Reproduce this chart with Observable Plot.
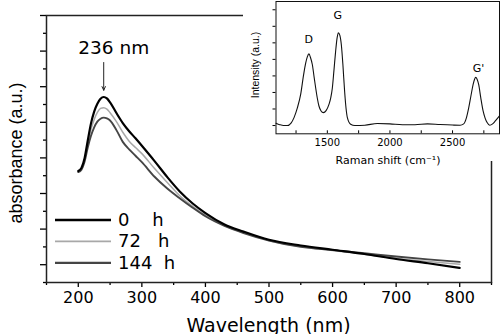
<!DOCTYPE html>
<html><head><meta charset="utf-8">
<script src="https://cdn.jsdelivr.net/npm/d3@7"></script>
<script src="https://cdn.jsdelivr.net/npm/@observablehq/plot@0.6"></script>
<style>
html,body{margin:0;padding:0;background:#fff;}
#wrap{position:relative;width:500px;height:334px;overflow:hidden;background:#fff;}
#main{position:absolute;left:0;top:0;}
#inset{position:absolute;left:243px;top:0;}
svg text{white-space:pre;}
</style></head><body>
<div id="wrap"><div id="main"></div><div id="inset"></div></div>
<script>
// ---- main chart data: UV-vis absorbance (a.u.) vs wavelength (nm)
const wavelength = [200,205,210,215,220,225,230,235,240,245,250,260,270,280,290,300,320,340,360,380,400,430,460,500,550,600,650,700,750,800];
const abs0h   = [2.63,2.72,3.00,3.50,3.97,4.30,4.52,4.66,4.71,4.67,4.56,4.26,3.98,3.75,3.55,3.34,2.91,2.46,2.05,1.72,1.45,1.13,0.93,0.70,0.54,0.42,0.30,0.16,0.04,-0.09];
const abs72h  = [2.62,2.70,2.95,3.40,3.80,4.08,4.28,4.39,4.41,4.37,4.27,4.02,3.72,3.47,3.29,3.12,2.70,2.31,1.93,1.64,1.39,1.10,0.90,0.68,0.51,0.40,0.29,0.18,0.09,0.01];
const abs144h = [2.60,2.67,2.90,3.30,3.62,3.86,4.02,4.10,4.13,4.11,4.05,3.78,3.45,3.24,3.06,2.88,2.47,2.14,1.86,1.60,1.36,1.09,0.89,0.68,0.50,0.41,0.32,0.23,0.15,0.08];
const seriesNames = ["0    h","72   h","144  h"];
const seriesColors = ["#000000","#a8a8a8","#454545"];
const seriesWidths = [2.2,1.5,1.9];
const xMajorTicks = [200,300,400,500,600,700,800];
const xMinorTicks = [150,250,350,450,550,650,750,850];
const yMajorTicks = [0,1,2,3,4,5,6,7];
const yMinorTicks = [-0.5,0.5,1.5,2.5,3.5,4.5,5.5,6.5];
const peakNote = [{wl:240, from:5.68, to:4.90, labelY:6.09, label:"236 nm"}];

// ---- inset data: Raman spectrum
const ramanShift = [1090,1120,1150,1180,1210,1234,1260,1287,1310,1327,1340,1353,1366,1380,1395,1407,1420,1433,1450,1468,1490,1513,1528,1540,1553,1566,1578,1588,1600,1612,1625,1638,1650,1660,1686,1720,1800,1900,2000,2100,2200,2300,2400,2500,2560,2589,2610,2629,2647,2664,2676,2685,2696,2709,2725,2744,2760,2776,2797,2820,2842,2875];
const ramanIntensity = [0.64,0.55,0.50,0.50,0.65,0.98,1.55,2.38,3.55,4.27,4.65,4.83,4.60,4.19,3.40,2.77,2.15,1.68,1.38,1.28,1.40,1.78,2.20,2.77,3.85,4.97,5.80,6.11,5.95,5.37,4.10,2.57,1.50,0.98,0.58,0.50,0.52,0.62,0.60,0.55,0.55,0.60,0.56,0.53,0.52,0.60,0.95,1.57,2.30,2.97,3.30,3.41,3.30,2.97,2.20,1.38,0.95,0.68,0.52,0.60,0.78,1.08];
const peakLabels = ["D","G","G'"];
const peakShifts = [1352,1583,2708];
const peakLabelY = [5.69,7.16,3.94];
const ramanMajorTicks = [1500,2000,2500];
const ramanMinorTicks = [1250,1750,2250,2750];
const ramanYTicks = [0.5,1.5,2.5,3.5,4.5,5.5,6.5,7.5];

// ---- build main chart
const seriesValues = [abs0h, abs72h, abs144h];
const drawOrder = [1,2,0];
const lineMarks = drawOrder.map(i => Plot.line(
  wavelength.map((w,j) => ({wl:w, v:seriesValues[i][j]})),
  {x:"wl", y:"v", stroke:seriesColors[i], strokeWidth:seriesWidths[i], curve:"monotone-x"}));

const mainSvg = Plot.plot({
  width:500, height:334,
  marginLeft:46, marginRight:9, marginTop:15, marginBottom:52,
  x:{domain:[150,850]},
  y:{domain:[-0.5,7]},
  style:{fontFamily:"DejaVu Sans", fontSize:"16px", color:"#000", background:"transparent"},
  marks:[
    Plot.axisX({ticks:xMajorTicks, tickSize:5, tickPadding:4, fontSize:16, label:null, tickFormat:d=>String(d), strokeWidth:1.3}),
    Plot.axisX({ticks:xMinorTicks, tickSize:3, tickFormat:()=>"", label:null, strokeWidth:1.3}),
    Plot.axisY({ticks:yMajorTicks, tickSize:6, tickFormat:()=>"", label:null, strokeWidth:1.3}),
    Plot.axisY({ticks:yMinorTicks, tickSize:3, tickFormat:()=>"", label:null, strokeWidth:1.3}),
    Plot.frame({stroke:"#222", strokeWidth:1.5}),
    ...lineMarks,
    Plot.arrow(peakNote, {x1:"wl", x2:"wl", y1:"from", y2:"to", stroke:"#222", strokeWidth:1, headLength:6, headAngle:50}),
    Plot.text(peakNote, {x:"wl", y:"labelY", text:"label", dx:10, fontSize:18.5, fill:"#000"})
  ]
});
document.getElementById("main").appendChild(mainSvg);
const ms = d3.select(mainSvg);
ms.append("text").attr("x",268.5).attr("y",331.5).attr("text-anchor","middle")
  .attr("font-family","DejaVu Sans").attr("font-size",19).attr("fill","#000").text("Wavelength (nm)");
ms.append("text").attr("transform","translate(21.5,153) rotate(-90)").attr("text-anchor","middle")
  .attr("font-family","Liberation Sans, Arial").attr("font-size",18).attr("fill","#000").text("absorbance (a.u.)");
// legend
const lg = ms.append("g").attr("text-anchor","start");
seriesNames.forEach((name,i) => {
  const yy = 220 + i*21.4;
  lg.append("line").attr("x1",55).attr("x2",111).attr("y1",yy).attr("y2",yy)
    .attr("stroke",seriesColors[i]).attr("stroke-width",seriesWidths[i]+0.4);
  lg.append("text").attr("x",118).attr("y",yy+6).attr("font-family","DejaVu Sans")
    .attr("text-anchor","start").attr("font-size",18).attr("fill","#000").text(name);
});

// ---- build inset
const ramanRows = ramanShift.map((s,i) => ({shift:s, inten:ramanIntensity[i]}));
const peakRows = peakLabels.map((l,i) => ({shift:peakShifts[i], y:peakLabelY[i], label:l}));
const insetSvg = Plot.plot({
  width:257, height:161,
  marginLeft:32.5, marginRight:1, marginTop:1, marginBottom:27.7,
  x:{domain:[1090,2875]},
  y:{domain:[0,8]},
  style:{fontFamily:"DejaVu Sans", fontSize:"10px", color:"#000", background:"#fff", overflow:"visible"},
  marks:[
    Plot.axisY({ticks:ramanYTicks, tickSize:3, tickFormat:()=>"", label:null}),
    Plot.axisX({ticks:ramanMajorTicks, tickSize:0, tickPadding:5, fontSize:10, label:null, tickFormat:d=>String(d)}),
    Plot.tickX(ramanMajorTicks.concat(ramanMinorTicks), {x:d=>d, insetTop:129.3, stroke:"#000"}),
    Plot.frame({stroke:"#111", strokeWidth:1}),
    Plot.line(ramanRows, {x:"shift", y:"inten", stroke:"#111", strokeWidth:1.1, curve:"monotone-x"}),
    Plot.text(peakRows, {x:"shift", y:"y", text:"label", fontSize:11, fill:"#000"})
  ]
});
document.getElementById("inset").appendChild(insetSvg);
const is = d3.select(insetSvg);
is.append("text").attr("x",145).attr("y",164).attr("text-anchor","middle")
  .attr("font-family","DejaVu Sans").attr("font-size",11).attr("fill","#000").text("Raman shift (cm⁻¹)");
is.append("text").attr("transform","translate(16,65) rotate(-90)").attr("text-anchor","middle")
  .attr("font-family","Liberation Sans, Arial").attr("font-size",10.5).attr("fill","#000").text("Intensity (a.u.)");
</script>
</body></html>
